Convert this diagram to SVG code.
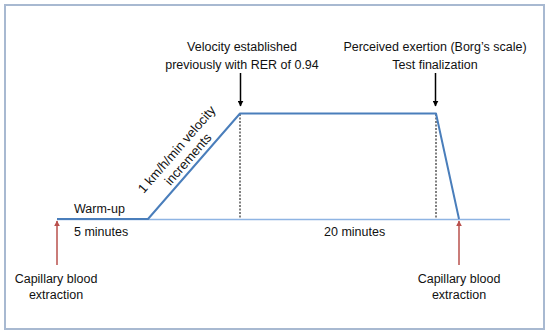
<svg xmlns="http://www.w3.org/2000/svg" width="550" height="334" viewBox="0 0 550 334">
<defs>
<marker id="blk" viewBox="0 0 10 10" refX="9" refY="5" markerWidth="6" markerHeight="6" markerUnits="userSpaceOnUse" orient="auto"><path d="M0,0 L10,5 L0,10 z" fill="#000"/></marker>
<marker id="red" viewBox="0 0 10 10" refX="9" refY="5" markerWidth="6" markerHeight="6" markerUnits="userSpaceOnUse" orient="auto"><path d="M0,0 L10,5 L0,10 z" fill="#b9504c"/></marker>
</defs>
<style>
text{font-family:"Liberation Sans",Arial,sans-serif;font-size:12.5px;fill:#111}
.m{text-anchor:middle}
.r{font-size:13px}
.dash{stroke:#000;stroke-width:1;stroke-dasharray:2,1.5}
.ba{stroke:#000;stroke-width:1.5;marker-end:url(#blk)}
.ra{stroke:#b9504c;stroke-width:1.5;marker-end:url(#red)}
</style>
<rect x="5" y="5" width="539" height="324" fill="#fff" stroke="#a8b9d1" stroke-width="2"/>
<g id="connectors">
<line x1="57" y1="219.5" x2="510" y2="219.5" stroke="#8eb4e3" stroke-width="1.5"/>
<line class="dash" x1="240" y1="114" x2="240" y2="219"/>
<line class="dash" x1="436" y1="114" x2="436" y2="219"/>
<polyline points="57,219 148,219 240,113.5 436,113.5 459,219" fill="none" stroke="#4a7ebb" stroke-width="2" stroke-linejoin="round"/>
<line class="ba" x1="240.5" y1="73" x2="240.5" y2="106"/>
<line class="ba" x1="435.5" y1="73" x2="435.5" y2="106"/>
<line class="ra" x1="57" y1="265" x2="57" y2="221"/>
<line class="ra" x1="459" y1="265" x2="459" y2="221"/>
</g>
<g id="top-left-label">
<text class="m" x="242" y="51">Velocity established</text>
<text class="m" x="242" y="69">previously with RER of 0.94</text>
</g>
<g id="top-right-label">
<text class="m" x="435" y="51">Perceived exertion (Borg’s scale)</text>
<text class="m" x="435" y="69">Test finalization</text>
</g>
<g id="ramp-label" transform="translate(183,155) rotate(-49)">
<text class="m r" x="0" y="-4">1 km/h/min velocity</text>
<text class="m r" x="0" y="11">increments</text>
</g>
<g id="warmup">
<text x="74" y="213">Warm-up</text>
<text x="74" y="236">5 minutes</text>
</g>
<g id="duration">
<text x="324" y="236">20 minutes</text>
</g>
<g id="blood-left">
<text class="m" x="56" y="283">Capillary blood</text>
<text class="m" x="56" y="299">extraction</text>
</g>
<g id="blood-right">
<text class="m" x="459" y="283">Capillary blood</text>
<text class="m" x="459" y="299">extraction</text>
</g>
</svg>
